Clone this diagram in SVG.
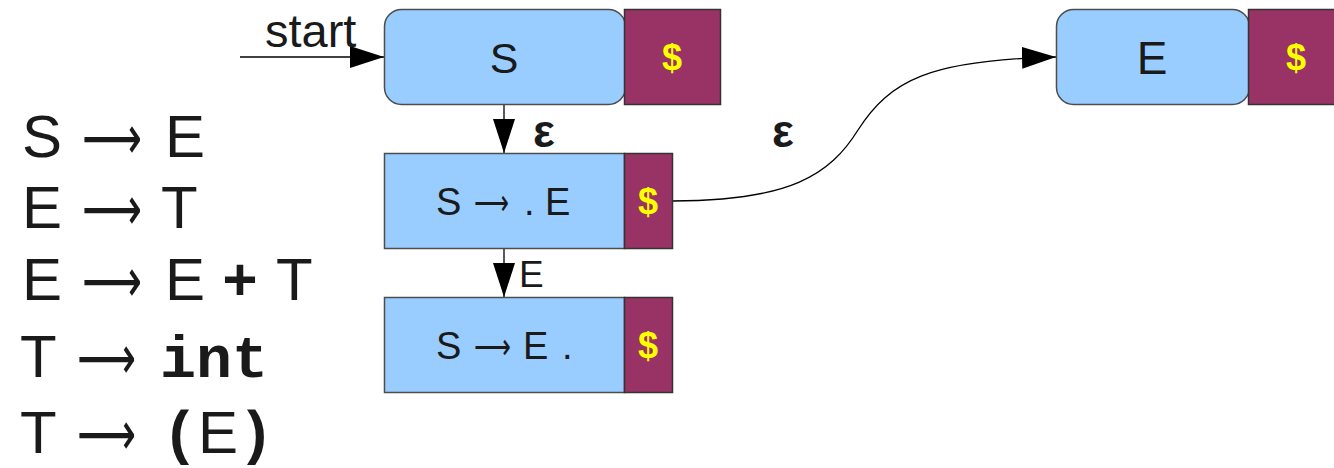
<svg xmlns="http://www.w3.org/2000/svg" width="1334" height="468" viewBox="0 0 1334 468">
<style>
.blue{fill:#99ccff;stroke:#4d4d4d;stroke-width:1.5}
.pur{fill:#993366;stroke:#333;stroke-width:1.5}
.dol{font-family:"Liberation Sans",Arial,sans-serif;font-weight:bold;fill:#ffff00;text-anchor:middle}
.t{font-family:"Liberation Sans",Arial,sans-serif;font-weight:normal;fill:#1a1a1a}
.m{font-family:"Liberation Mono","Courier New",monospace;font-weight:bold;fill:#1a1a1a}
.ar{font-family:"DejaVu Sans",sans-serif;font-weight:normal;fill:#1a1a1a}
.g{font-size:60px}
.edge{fill:none;stroke:#000;stroke-width:1.3}
</style>
<defs>
<marker id="ah" viewBox="0 0 34 22" refX="34" refY="11" markerWidth="34" markerHeight="22" markerUnits="userSpaceOnUse" orient="auto">
<path d="M0,0 L34,11 L0,22 z" fill="#000"/>
</marker>
</defs>
<g id="grammar">
<text class="t g" x="22" y="157">S</text><text class="ar" font-size="62" x="82" y="159" textLength="60" lengthAdjust="spacingAndGlyphs">⟶</text><text class="t g" x="165" y="157">E</text>
<text class="t g" x="22" y="228">E</text><text class="ar" font-size="62" x="82" y="230" textLength="60" lengthAdjust="spacingAndGlyphs">⟶</text><text class="t g" x="161" y="228">T</text>
<text class="t g" x="22" y="300">E</text><text class="ar" font-size="62" x="82" y="302" textLength="60" lengthAdjust="spacingAndGlyphs">⟶</text><text class="t g" x="165" y="300">E</text><text class="m g" x="222" y="300">+</text><text class="t g" x="276" y="300">T</text>
<text class="t g" x="20" y="377">T</text><text class="ar" font-size="62" x="77" y="379" textLength="59" lengthAdjust="spacingAndGlyphs">⟶</text><text class="m g" x="160" y="377">int</text>
<text class="t g" x="20" y="453">T</text><text class="ar" font-size="62" x="77" y="455" textLength="59" lengthAdjust="spacingAndGlyphs">⟶</text><text class="m g" x="162" y="453">(</text><text class="t g" x="198" y="453">E</text><text class="m g" x="238" y="453">)</text>
</g>
<g id="connectors">
<line class="edge" x1="240" y1="57" x2="384" y2="57" marker-end="url(#ah)"/>
<line class="edge" x1="504" y1="104" x2="504" y2="153" marker-end="url(#ah)"/>
<line class="edge" x1="504" y1="248" x2="504" y2="297" marker-end="url(#ah)"/>
<path class="edge" d="M672,201 C790,201 830,175 858,130 C890,80 930,60 1056,57" marker-end="url(#ah)"/>
<text class="t" x="265" y="47" font-size="47">start</text>
<text class="t" x="544" y="147" font-size="46" text-anchor="middle" style="font-weight:bold">ε</text>
<text class="t" x="783" y="147" font-size="46" text-anchor="middle" style="font-weight:bold">ε</text>
<text class="t" x="519" y="287" font-size="37">E</text>
</g>
<g id="node-S">
<rect class="blue" x="384.5" y="9.5" width="241" height="95" rx="17"/>
<rect class="pur" x="624.5" y="9.5" width="96" height="95"/>
<text class="t" x="504" y="73" font-size="43" text-anchor="middle">S</text>
<text class="dol" x="672" y="70" font-size="36">$</text>
</g>
<g id="node-SdotE">
<rect class="blue" x="384.5" y="153.5" width="240" height="95"/>
<rect class="pur" x="624.5" y="153.5" width="48" height="95"/>
<text class="t" font-size="38" x="436" y="215">S<tspan class="ar" font-size="36" x="474" textLength="35" lengthAdjust="spacingAndGlyphs">⟶</tspan><tspan x="524">.</tspan><tspan x="545">E</tspan></text>
<text class="dol" x="648" y="214" font-size="36">$</text>
</g>
<g id="node-SEdot">
<rect class="blue" x="384.5" y="297.5" width="240" height="95"/>
<rect class="pur" x="624.5" y="297.5" width="48" height="95"/>
<text class="t" font-size="38" x="436" y="359">S<tspan class="ar" font-size="36" x="474" textLength="37" lengthAdjust="spacingAndGlyphs">⟶</tspan><tspan x="523">E</tspan><tspan x="562">.</tspan></text>
<text class="dol" x="648" y="358" font-size="36">$</text>
</g>
<g id="node-E">
<rect class="blue" x="1056.5" y="9.5" width="193" height="95" rx="17"/>
<rect class="pur" x="1248.5" y="9.5" width="100" height="95"/>
<text class="t" x="1152" y="74" font-size="46" text-anchor="middle">E</text>
<text class="dol" x="1296" y="70" font-size="36">$</text>
</g>
</svg>
